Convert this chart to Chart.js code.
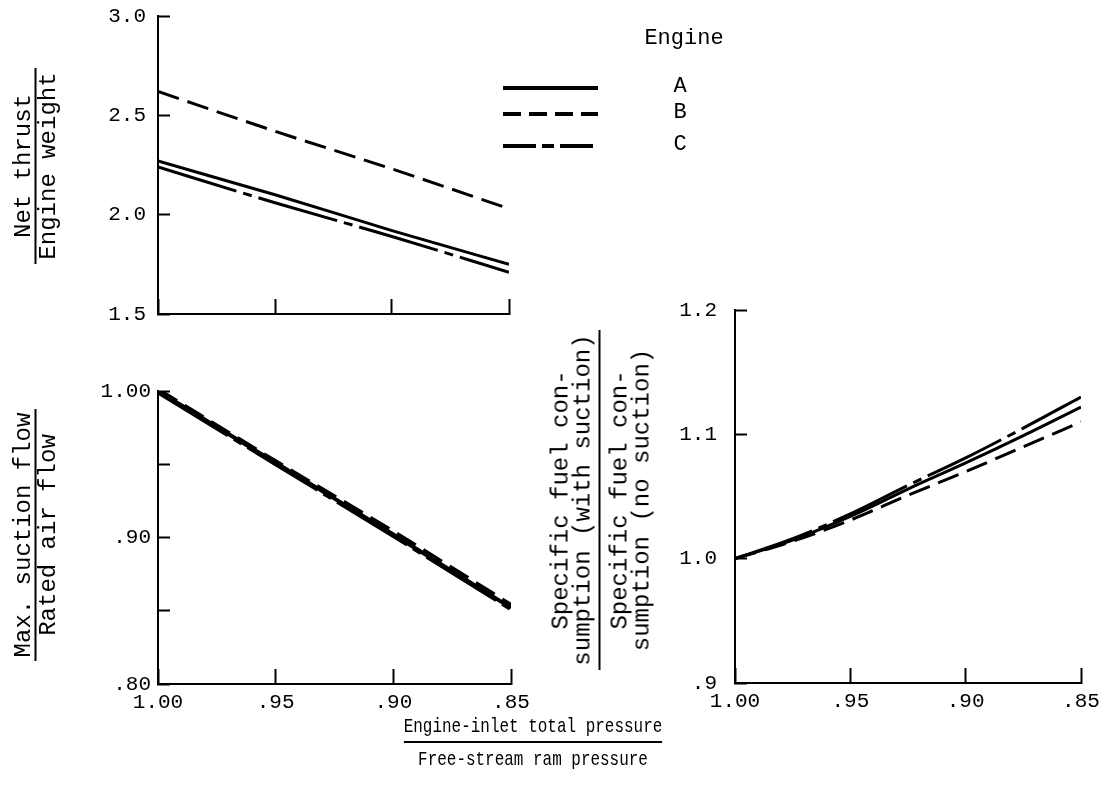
<!DOCTYPE html>
<html>
<head>
<meta charset="utf-8">
<title>Suction effect on engine performance</title>
<script src="https://cdn.jsdelivr.net/npm/chart.js@4.4.0/dist/chart.umd.min.js"></script>
<style>
  body { margin: 0; background: #fff; }
  #page { position: relative; width: 1113px; height: 786px; overflow: hidden;
          font-family: 'Liberation Mono', 'DejaVu Sans Mono', monospace; color: #000; }
  canvas { position: absolute; }
  .frac { position: absolute; transform: translate(-50%, -50%) rotate(-90deg);
          font-size: 24px; line-height: 22px; white-space: nowrap; text-align: center; }
  .frac .num { border-bottom: 2px solid #000; }
  .left .num { padding-bottom: 0; }
  .left .den { padding-top: 1px; }
  .right .num { padding-bottom: 4px; }
  .right .den { padding-top: 9px; }
  #xtitle { position: absolute; left: 533px; top: 716px; font-size: 21px; line-height: 22px;
            transform: translateX(-50%) scaleX(0.76); white-space: nowrap; text-align: center; }
  #xtitle .num { border-bottom: 2px solid #000; padding-bottom: 3px; }
  #xtitle .den { padding-top: 6px; }
</style>
</head>
<body>
<div id="page">
  <canvas id="thrustChart" width="1113" height="340" style="left:0;top:0"></canvas>
  <canvas id="suctionChart" width="560" height="410" style="left:0;top:330px"></canvas>
  <canvas id="sfcChart" width="553" height="440" style="left:560px;top:290px"></canvas>

  <div class="frac left" style="left:36px;top:166px;width:196px">
    <div class="num">Net thrust</div>
    <div class="den">Engine weight</div>
  </div>
  <div class="frac left" style="left:36px;top:535px;width:252px">
    <div class="num">Max. suction flow</div>
    <div class="den">Rated air flow</div>
  </div>
  <div class="frac right" style="left:602px;top:500px;width:340px">
    <div class="num">Specific fuel con-<br>sumption (with suction)</div>
    <div class="den">Specific fuel con-<br>sumption (no suction)</div>
  </div>

  <div id="xtitle">
    <div class="num">Engine-inlet total pressure</div>
    <div class="den">Free-stream ram pressure</div>
  </div>
</div>

<script>
// engine-inlet total pressure / free-stream ram pressure
const pressureRatio = [1.00, 0.95, 0.90, 0.85];
const engines = ['A', 'B', 'C'];

// net thrust / engine weight
const thrustA = [2.27, 2.10, 1.92, 1.75];
const thrustB = [2.62, 2.42, 2.23, 2.03];
const thrustC = [2.24, 2.06, 1.89, 1.71];

// max. suction flow / rated air flow (the three engines nearly coincide)
const suctionA = [1.000, 0.951, 0.902, 0.852];
const suctionB = [1.001, 0.952, 0.904, 0.854];
const suctionC = [0.999, 0.950, 0.901, 0.851];

// sfc with suction / sfc without suction
const sfcRatio = [1.00, 0.975, 0.95, 0.925, 0.90, 0.875, 0.85];
const sfcA = [1.000, 1.015, 1.034, 1.056, 1.077, 1.099, 1.122];
const sfcB = [1.000, 1.014, 1.031, 1.051, 1.070, 1.090, 1.110];
const sfcC = [1.000, 1.016, 1.036, 1.059, 1.081, 1.105, 1.130];

// tick positions
const ratioTicks = [1.00, 0.95, 0.90, 0.85];
const thrustTicks = [3.0, 2.5, 2.0, 1.5];
const suctionTicks = [1.00, 0.95, 0.90, 0.85, 0.80];
const sfcTicks = [1.2, 1.1, 1.0, 0.9];

const FONT = { family: "'Liberation Mono', 'DejaVu Sans Mono', monospace", size: 21 };
const lineDash = { A: [], B: [22, 9], C: [82, 7, 9, 7] };
const keyDash = { A: [], B: [18, 8], C: [33, 6, 12, 6] };

function makeSets(xs, series, width) {
    return series.map((ys, k) => ({
        label: engines[k],
        data: xs.map((x, i) => ({ x: x, y: ys[i] })),
        borderColor: '#000',
        borderWidth: width,
        borderDash: lineDash[engines[k]],
        borderCapStyle: 'butt',
        pointRadius: 0,
        fill: false,
        cubicInterpolationMode: 'monotone'
    }));
}

function ratioLabel(v) {
    if (Math.abs(v - 1) < 1e-6) return '1.00';
    return '.' + Math.round(v * 100);
}

// fixed box sizes, and no extra room asked for the end labels
function fixBox(s, w, h) {
    if (w) s.width = w;
    if (h) s.height = h;
    s.paddingLeft = 0;
    s.paddingRight = 0;
    s.paddingTop = 0;
    s.paddingBottom = 0;
}

function xAxis(showLabels, height) {
    return {
        type: 'linear',
        reverse: true,
        min: 0.85,
        max: 1.00,
        afterBuildTicks: s => { s.ticks = ratioTicks.map(v => ({ value: v })); },
        afterFit: s => fixBox(s, 0, height),
        border: { display: true, color: '#000', width: 2 },
        grid: { drawOnChartArea: false, drawTicks: true, tickLength: -15, tickWidth: 2, tickColor: '#000' },
        ticks: {
            color: '#000', font: FONT, padding: 21, maxRotation: 0, autoSkip: false,
            callback: v => showLabels ? ratioLabel(v) : ''
        }
    };
}

function yAxis(min, max, tickValues, label, pad) {
    return {
        type: 'linear',
        min: min,
        max: max,
        afterBuildTicks: s => { s.ticks = tickValues.map(v => ({ value: v })); },
        afterFit: s => fixBox(s, 60, 0),
        border: { display: true, color: '#000', width: 2 },
        grid: { drawOnChartArea: false, drawTicks: true, tickLength: -12, tickWidth: 2, tickColor: '#000' },
        ticks: { color: '#000', font: FONT, padding: pad, autoSkip: false, callback: label }
    };
}

// key for the three engines, drawn beside the thrust panel
const engineKey = {
    id: 'engineKey',
    afterDraw(chart) {
        const ctx = chart.ctx;
        const rows = [88, 114, 146];
        ctx.save();
        ctx.fillStyle = '#000';
        ctx.textAlign = 'center';
        ctx.textBaseline = 'middle';
        ctx.font = "22px 'Liberation Mono', monospace";
        ctx.fillText('Engine', 684, 38);
        chart.data.datasets.forEach((ds, i) => {
            const y = rows[i];
            ctx.strokeStyle = ds.borderColor;
            ctx.lineWidth = 4;
            ctx.setLineDash(keyDash[ds.label]);
            ctx.beginPath();
            ctx.moveTo(503, y);
            ctx.lineTo(598, y);
            ctx.stroke();
            ctx.setLineDash([]);
            ctx.fillText(ds.label, 680, y - 2);
        });
        ctx.restore();
    }
};

const common = {
    responsive: false,
    animation: false,
    devicePixelRatio: 1,
    plugins: { legend: { display: false }, tooltip: { enabled: false } }
};

new Chart(document.getElementById('thrustChart'), {
    type: 'line',
    data: { datasets: makeSets(pressureRatio, [thrustA, thrustB, thrustC], 3) },
    options: Object.assign({}, common, {
        layout: { padding: { left: 98, right: 604, top: 16, bottom: 6 } },
        scales: {
            x: xAxis(false, 20),
            y: yAxis(1.5, 3.0, thrustTicks, v => v.toFixed(1), 24)
        }
    }),
    plugins: [engineKey]
});

new Chart(document.getElementById('suctionChart'), {
    type: 'line',
    data: { datasets: makeSets(pressureRatio, [suctionA, suctionB, suctionC], 4) },
    options: Object.assign({}, common, {
        layout: { padding: { left: 98, right: 49, top: 61, bottom: 16 } },
        scales: {
            x: xAxis(true, 40),
            y: yAxis(0.80, 1.00, suctionTicks, v => {
                const h = Math.round(v * 100);
                if (h % 10 !== 0) return '';
                return h === 100 ? '1.00' : '.' + h;
            }, 19)
        }
    })
});

new Chart(document.getElementById('sfcChart'), {
    type: 'line',
    data: { datasets: makeSets(sfcRatio, [sfcA, sfcB, sfcC], 3) },
    options: Object.assign({}, common, {
        layout: { padding: { left: 115, right: 32, top: 20, bottom: 7 } },
        scales: {
            x: xAxis(true, 40),
            y: yAxis(0.9, 1.2, sfcTicks, v => v < 0.95 ? '.9' : v.toFixed(1), 30)
        }
    })
});
</script>
</body>
</html>
